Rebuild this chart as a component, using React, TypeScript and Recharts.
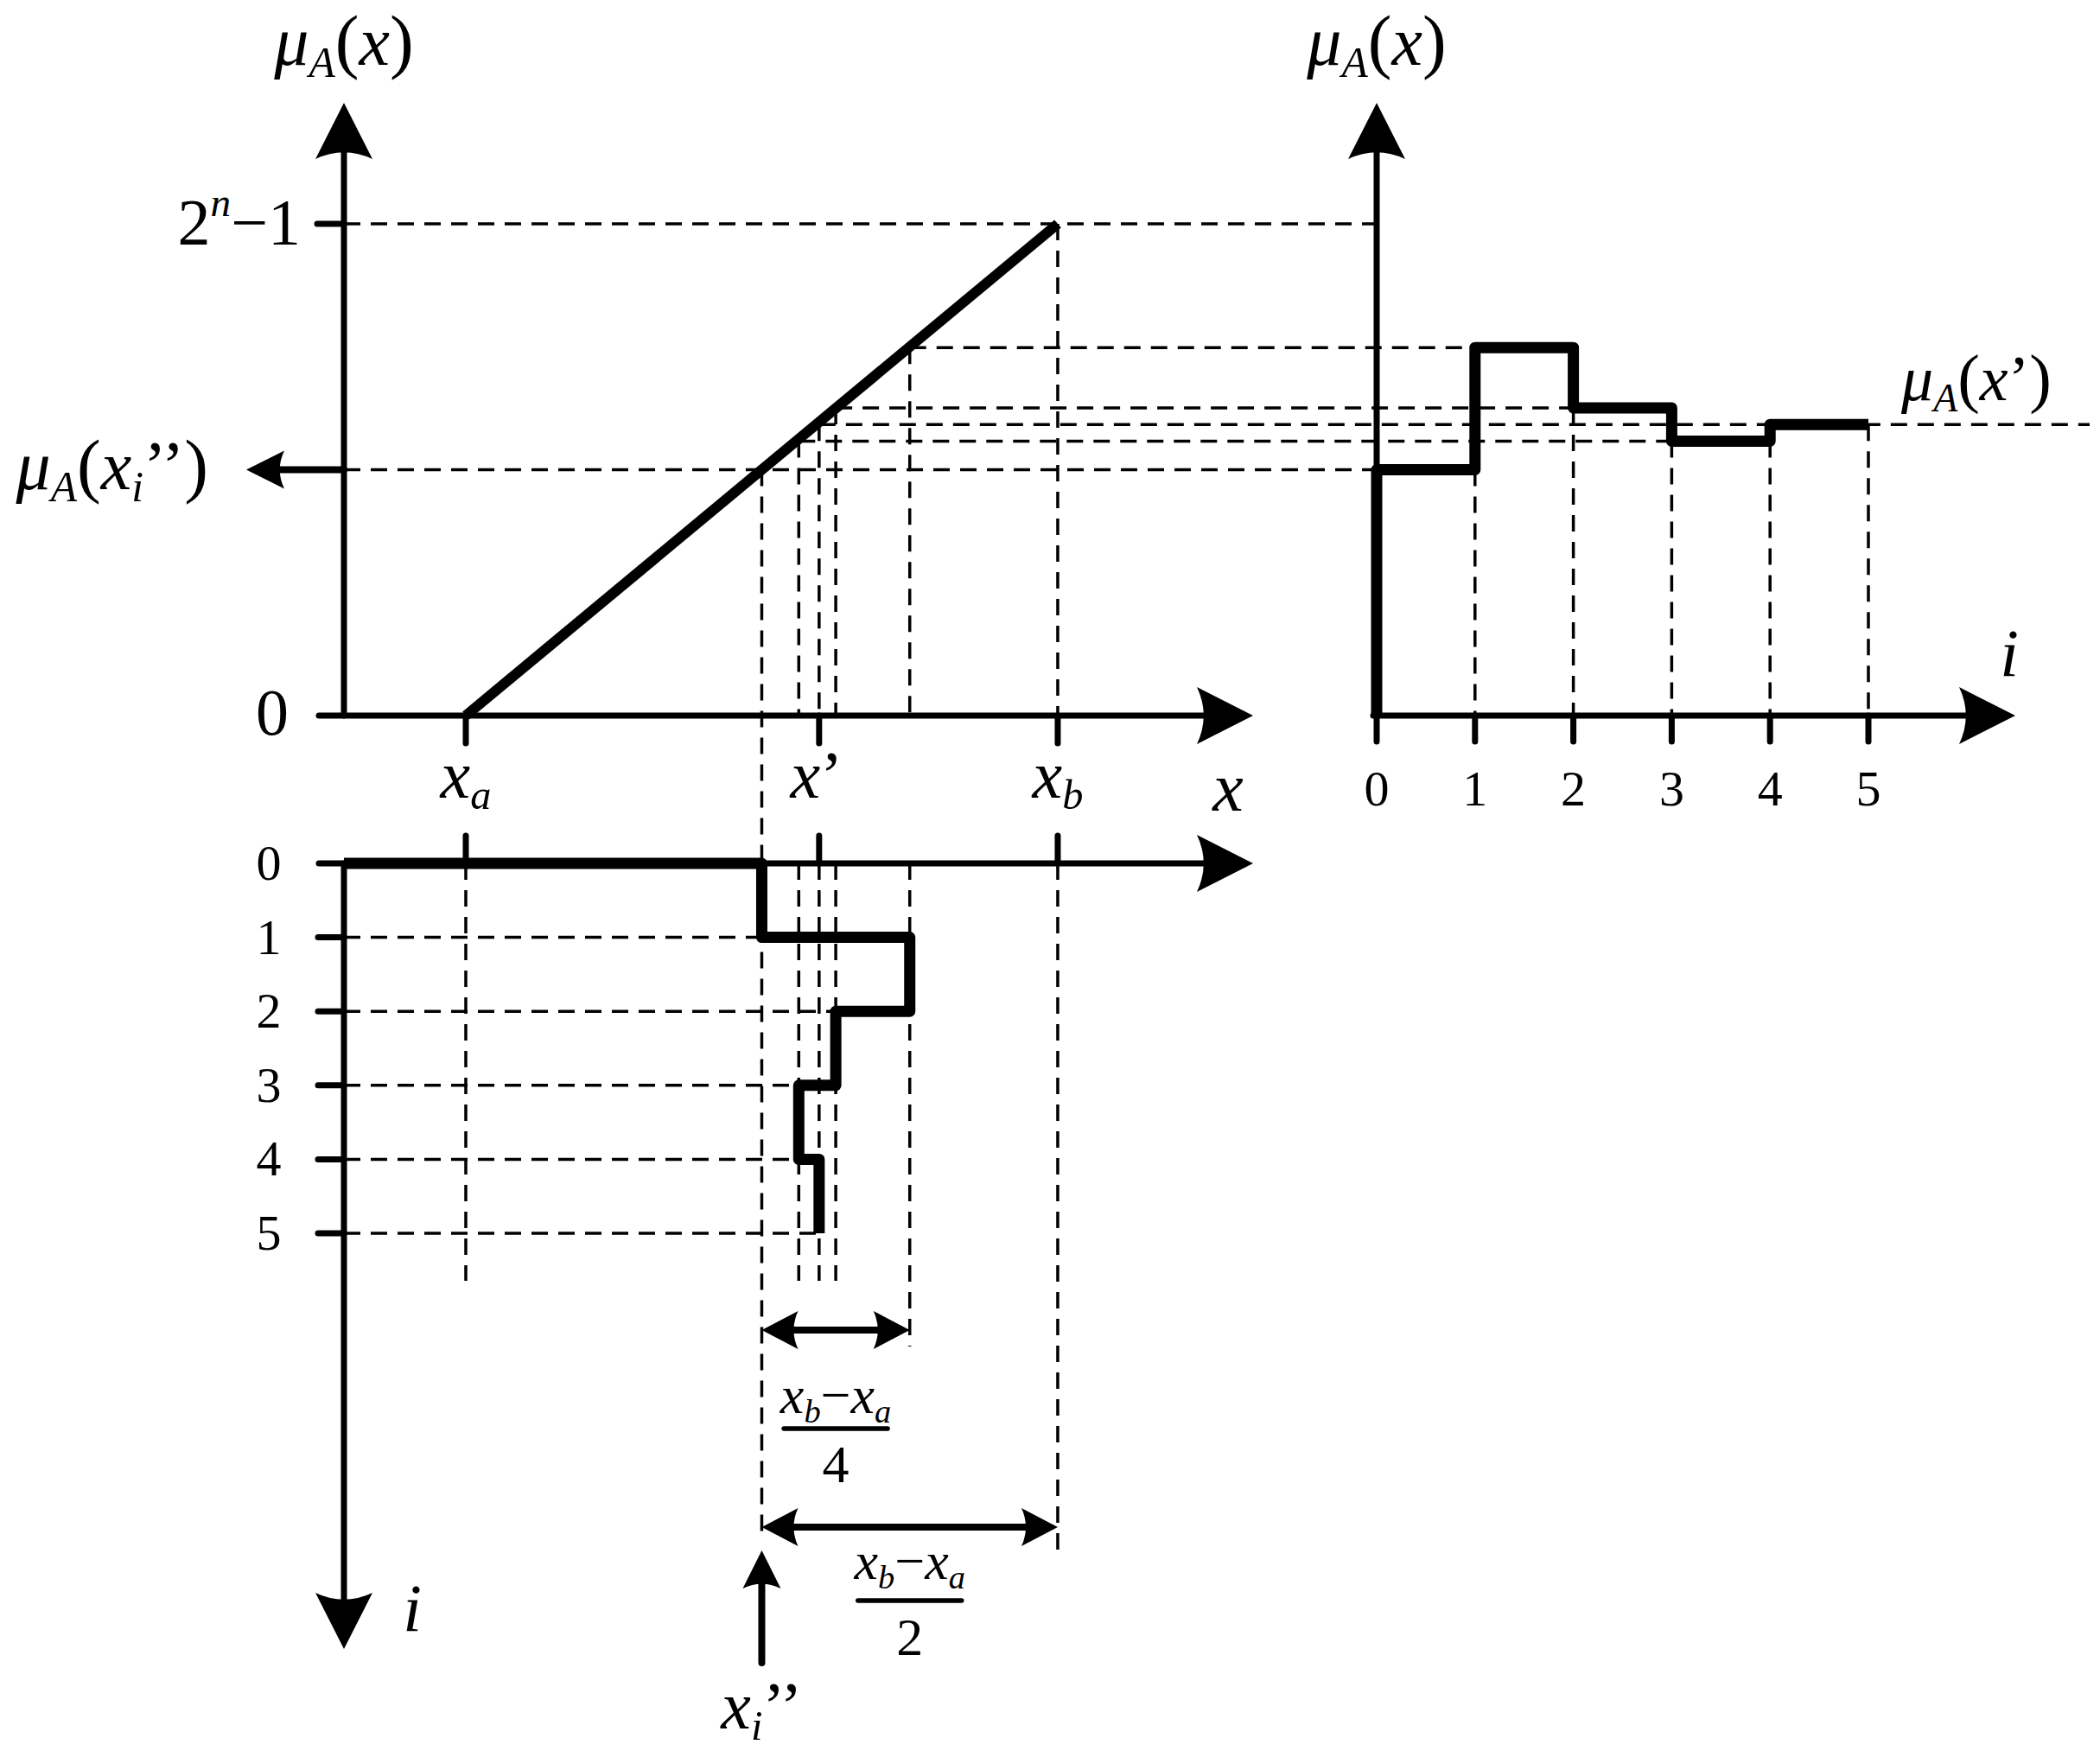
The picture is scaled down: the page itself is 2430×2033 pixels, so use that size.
import React from 'react';
import { ComposedChart, XAxis, YAxis, Line, ReferenceLine, ReferenceDot } from 'recharts';

// ---------------- values ----------------
const X_A = 0;                                   // x_a
const X_B = 16;                                  // x_b
const X_PRIME = 9.55;                            // x'
const MU_MAX = 31;                               // 2^n − 1
const ITER_X = [8, 12, 10, 9, 9.55];             // x_i''  (i = 0..4)
const ITER_MU = [15.5, 23.2, 19.4, 17.3, 18.35]; // μA(x_i'')
const I_TICKS = [0, 1, 2, 3, 4, 5];
const X_TICKS = [X_A, X_PRIME, X_B];

// ---------------- layout (pixel frame of the picture) ----------------
const W = 2430;
const H = 2033;
const X0 = 539, XU = 42.81;    // x axis: px of x=0, px per unit
const M0 = 828, MUP = 18.355;  // μ axis
const I0 = 1593, IU = 113.8;   // i axis (right chart)
const L0 = 999, LU = 85.6;     // i axis (bottom chart, downward)
const ux = (px: number) => (px - X0) / XU;
const um = (py: number) => (M0 - py) / MUP;
const ui = (px: number) => (px - I0) / IU;
const ul = (py: number) => (py - L0) / LU;
const xToI = (x: number) => (X0 + x * XU - I0) / IU;
const muToL = (m: number) => (M0 - m * MUP - L0) / LU;

const AX_X = ux(398);
const AX_X0 = ux(369);
const X_TIP = ux(1450);
const MU_TIP = um(119);
const I_TIP = ui(2332);
const L_TIP = ul(1908);
const DIM1 = ul(1539);
const DIM2 = ul(1767);

const FONT = "'Liberation Serif', 'Times New Roman', serif";
const BLACK = '#000';

// ---------------- text helpers ----------------
type Part = { t: string; i?: boolean; s?: 'sub' | 'sup'; k?: number };
const It = (t: string): Part => ({ t, i: true });
const Rm = (t: string): Part => ({ t });
const Sub = (t: string): Part => ({ t, i: true, s: 'sub' });
const Sup = (t: string): Part => ({ t, i: true, s: 'sup' });
const Par = (t: string): Part => ({ t, k: 1.04 });

function MathText({ x, y, size, parts, anchor = 'middle' }: { x: number; y: number; size: number; parts: Part[]; anchor?: 'start' | 'middle' | 'end' }) {
  let cur = 0;
  return (
    <text x={x} y={y} textAnchor={anchor} fontFamily={FONT} fontSize={size} fill={BLACK} stroke="none">
      {parts.map((p, n) => {
        const off = p.s === 'sub' ? size * 0.17 : p.s === 'sup' ? -size * 0.44 : 0;
        const dy = off - cur;
        cur = off;
        const fs = p.s ? size * 0.62 : size * (p.k ?? 1);
        return (
          <tspan key={n} dy={dy} fontSize={fs} fontStyle={p.i ? 'italic' : 'normal'}>
            {p.t}
          </tspan>
        );
      })}
    </text>
  );
}

const MU_X: Part[] = [It('μ'), Sub('A'), Par('('), It('x'), Par(')')];
const MU_XI: Part[] = [It('μ'), Sub('A'), Par('('), It('x'), Sub('i'), Rm('’’'), Par(')')];
const MU_XP: Part[] = [It('μ'), Sub('A'), Par('('), It('x'), Rm('’'), Par(')')];
const TWO_N: Part[] = [Rm('2'), Sup('n'), Rm('−1')];
const X_TICK_LABELS: Part[][] = [
  [It('x'), Sub('a')],
  [It('x'), Rm('’')],
  [It('x'), Sub('b')],
];
const NUM: Part[] = [It('x'), Sub('b'), Rm('−'), It('x'), Sub('a')];

function txt(key: string, xId: string, yId: string, x: number, y: number, dx: number, dy: number, size: number, parts: Part[], anchor: 'start' | 'middle' | 'end' = 'middle') {
  return (
    <ReferenceDot
      key={key}
      xAxisId={xId}
      yAxisId={yId}
      x={x}
      y={y}
      r={0}
      ifOverflow="visible"
      shape={(p: any) => <MathText x={p.cx + dx} y={p.cy + dy} size={size} parts={parts} anchor={anchor} />}
    />
  );
}

function frac(key: string, x: number, y: number, numDy: number, barDy: number, denDy: number, den: string) {
  return (
    <ReferenceDot
      key={key}
      xAxisId="x"
      yAxisId="lvl"
      x={x}
      y={y}
      r={0}
      ifOverflow="visible"
      shape={(p: any) => (
        <g>
          <MathText x={p.cx} y={p.cy + numDy} size={62} parts={NUM} />
          <line x1={p.cx - 60} x2={p.cx + 60} y1={p.cy + barDy} y2={p.cy + barDy} stroke={BLACK} strokeWidth={5.5} strokeLinecap="round" />
          <MathText x={p.cx} y={p.cy + denDy} size={62} parts={[Rm(den)]} />
        </g>
      )}
    />
  );
}

// ---------------- arrow shapes ----------------
function makeArrow(width: number, len: number, hw: number, atEnd: boolean, atStart: boolean) {
  const notch = len * 0.12;
  return (p: any) => {
    const { x1, y1, x2, y2 } = p;
    const L = Math.hypot(x2 - x1, y2 - y1) || 1;
    const dirX = (x2 - x1) / L;
    const dirY = (y2 - y1) / L;
    const head = (tx: number, ty: number, dx: number, dy: number) => {
      const bx = tx - dx * len;
      const by = ty - dy * len;
      const nx = -dy;
      const ny = dx;
      const qx = tx - dx * (len - 2 * notch);
      const qy = ty - dy * (len - 2 * notch);
      return `M${tx},${ty}L${bx + nx * hw},${by + ny * hw}Q${qx},${qy} ${bx - nx * hw},${by - ny * hw}Z`;
    };
    const inset = len * 0.6;
    const sx = atStart ? x1 + dirX * inset : x1;
    const sy = atStart ? y1 + dirY * inset : y1;
    const ex = atEnd ? x2 - dirX * inset : x2;
    const ey = atEnd ? y2 - dirY * inset : y2;
    return (
      <g>
        <line x1={sx} y1={sy} x2={ex} y2={ey} stroke={BLACK} strokeWidth={width} strokeLinecap="round" />
        {atEnd && <path d={head(x2, y2, dirX, dirY)} fill={BLACK} />}
        {atStart && <path d={head(x1, y1, -dirX, -dirY)} fill={BLACK} />}
      </g>
    );
  };
}
const axisArrow = makeArrow(7, 65, 33, true, false);
const smallArrow = makeArrow(8, 44, 22, true, false);
const dimArrow = makeArrow(8, 42, 22, true, true);

// ---------------- series data built from the values ----------------
const DIAG = [
  { x: X_A, mu: 0 },
  { x: X_B, mu: MU_MAX },
];
const RIGHT_STEP: { i: number; mu: number }[] = [{ i: 0, mu: 0 }];
ITER_MU.forEach((m, k) => {
  RIGHT_STEP.push({ i: k, mu: m }, { i: k + 1, mu: m });
});
const BOTTOM_STEP: { x: number; lvl: number }[] = [{ x: AX_X, lvl: 0 }];
ITER_X.forEach((xv, k) => {
  BOTTOM_STEP.push({ x: xv, lvl: k }, { x: xv, lvl: k + 1 });
});

type Seg = { xId: string; yId: string; a: [number, number]; b: [number, number] };
const DASHED: Seg[] = [];
// projections from the line down to the x axis
for (let k = 1; k < ITER_X.length; k++) DASHED.push({ xId: 'x', yId: 'mu', a: [ITER_X[k], ITER_MU[k]], b: [ITER_X[k], 0] });
DASHED.push({ xId: 'x', yId: 'mu', a: [X_B, MU_MAX], b: [X_B, 0] });
// horizontal projections to the right chart
DASHED.push({ xId: 'i', yId: 'mu', a: [xToI(AX_X), MU_MAX], b: [0, MU_MAX] });
ITER_MU.forEach((m, k) => {
  const startX = k === 0 ? AX_X : ITER_X[k];
  const endI = k === ITER_MU.length - 1 ? ui(2418) : k;
  DASHED.push({ xId: 'i', yId: 'mu', a: [xToI(startX), m], b: [endI, m] });
});
// right chart verticals
for (let j = 1; j <= ITER_MU.length; j++) {
  const m = Math.min(ITER_MU[j - 1], ITER_MU[j] ?? ITER_MU[j - 1]);
  DASHED.push({ xId: 'i', yId: 'mu', a: [j, m], b: [j, 0] });
}
// long vertical at x_0''
DASHED.push({ xId: 'x', yId: 'lvl', a: [ITER_X[0], muToL(ITER_MU[0])], b: [ITER_X[0], ul(1782)] });
// bottom chart verticals
[X_A, ITER_X[2], ITER_X[3], ITER_X[4]].forEach((v) => DASHED.push({ xId: 'x', yId: 'lvl', a: [v, 0], b: [v, ul(1482)] }));
DASHED.push({ xId: 'x', yId: 'lvl', a: [ITER_X[1], 0], b: [ITER_X[1], ul(1558)] });
DASHED.push({ xId: 'x', yId: 'lvl', a: [X_B, 0], b: [X_B, ul(1796)] });
// bottom chart horizontals
for (let l = 1; l <= ITER_X.length; l++) {
  const e = Math.min(ITER_X[l - 1], ITER_X[l] ?? ITER_X[l - 1]);
  DASHED.push({ xId: 'x', yId: 'lvl', a: [AX_X, l], b: [e, l] });
}

type Arr = Seg & { shape: (p: any) => React.ReactElement };
const ARROWS: Arr[] = [
  { xId: 'x', yId: 'mu', a: [AX_X, 0], b: [AX_X, MU_TIP], shape: axisArrow },
  { xId: 'x', yId: 'mu', a: [AX_X0, 0], b: [X_TIP, 0], shape: axisArrow },
  { xId: 'i', yId: 'mu', a: [0, 0], b: [0, MU_TIP], shape: axisArrow },
  { xId: 'i', yId: 'mu', a: [ui(1589), 0], b: [I_TIP, 0], shape: axisArrow },
  { xId: 'x', yId: 'lvl', a: [AX_X, 0], b: [AX_X, L_TIP], shape: axisArrow },
  { xId: 'x', yId: 'lvl', a: [AX_X0, 0], b: [X_TIP, 0], shape: axisArrow },
  { xId: 'x', yId: 'mu', a: [AX_X, ITER_MU[0]], b: [ux(285), ITER_MU[0]], shape: smallArrow },
  { xId: 'x', yId: 'lvl', a: [ITER_X[0], ul(1924)], b: [ITER_X[0], ul(1794)], shape: smallArrow },
  { xId: 'x', yId: 'lvl', a: [ITER_X[0], DIM1], b: [ITER_X[1], DIM1], shape: dimArrow },
  { xId: 'x', yId: 'lvl', a: [ITER_X[0], DIM2], b: [X_B, DIM2], shape: dimArrow },
];

const TICKS: Seg[] = [
  { xId: 'x', yId: 'mu', a: [ux(367), MU_MAX], b: [AX_X, MU_MAX] },
  ...X_TICKS.map((v) => ({ xId: 'x', yId: 'mu', a: [v, 0], b: [v, um(860)] } as Seg)),
  ...X_TICKS.map((v) => ({ xId: 'x', yId: 'lvl', a: [v, 0], b: [v, ul(967)] } as Seg)),
  ...I_TICKS.map((v) => ({ xId: 'i', yId: 'mu', a: [v, 0], b: [v, um(858)] } as Seg)),
  ...I_TICKS.filter((v) => v > 0).map((v) => ({ xId: 'x', yId: 'lvl', a: [ux(368), v], b: [AX_X, v] } as Seg)),
];

export default function App() {
  const xD = [ux(0), ux(W)];
  const iD = [ui(0), ui(W)];
  const muD = [um(H), um(0)];
  const lD = [ul(0), ul(H)];
  const thick = { stroke: BLACK, strokeWidth: 13, dot: false, activeDot: false, isAnimationActive: false, strokeLinejoin: 'round' as const, type: 'linear' as const };

  return (
    <div style={{ position: 'absolute', left: 0, top: 0, width: W, height: H, background: '#fff' }}>
      <ComposedChart width={W} height={H} margin={{ top: 0, right: 0, bottom: 0, left: 0 }}>
        <XAxis xAxisId="x" dataKey="x" type="number" domain={xD} allowDataOverflow hide />
        <XAxis xAxisId="i" dataKey="i" type="number" domain={iD} allowDataOverflow hide />
        <YAxis yAxisId="mu" type="number" domain={muD} allowDataOverflow hide />
        <YAxis yAxisId="lvl" type="number" domain={lD} allowDataOverflow hide reversed />

        {DASHED.map((s, n) => (
          <ReferenceLine
            key={`d${n}`}
            xAxisId={s.xId}
            yAxisId={s.yId}
            segment={[{ x: s.a[0], y: s.a[1] }, { x: s.b[0], y: s.b[1] }]}
            stroke={BLACK}
            strokeWidth={3.5}
            strokeDasharray="19 12"
            ifOverflow="visible"
          />
        ))}

        {TICKS.map((s, n) => (
          <ReferenceLine
            key={`t${n}`}
            xAxisId={s.xId}
            yAxisId={s.yId}
            segment={[{ x: s.a[0], y: s.a[1] }, { x: s.b[0], y: s.b[1] }]}
            stroke={BLACK}
            strokeWidth={7}
            strokeLinecap="round"
            ifOverflow="visible"
          />
        ))}

        {ARROWS.map((s, n) => (
          <ReferenceLine
            key={`a${n}`}
            xAxisId={s.xId}
            yAxisId={s.yId}
            segment={[{ x: s.a[0], y: s.a[1] }, { x: s.b[0], y: s.b[1] }]}
            ifOverflow="visible"
            shape={s.shape}
          />
        ))}

        <Line xAxisId="x" yAxisId="mu" data={DIAG} dataKey="mu" {...thick} strokeWidth={12} />
        <Line xAxisId="i" yAxisId="mu" data={RIGHT_STEP} dataKey="mu" {...thick} />
        <Line xAxisId="x" yAxisId="lvl" data={BOTTOM_STEP} dataKey="lvl" {...thick} />

        {/* top-left chart labels */}
        {txt('l1', 'x', 'mu', AX_X, MU_TIP, 0, -44, 80, MU_X)}
        {txt('l2', 'x', 'mu', AX_X, MU_MAX, -50, 24, 76, TWO_N, 'end')}
        {txt('l3', 'x', 'mu', AX_X, 0, -83, 22, 76, [Rm('0')])}
        {txt('l4', 'x', 'mu', ux(285), ITER_MU[0], -44, 23, 80, MU_XI, 'end')}
        {X_TICKS.map((v, n) => txt(`xt${n}`, 'x', 'mu', v, 0, n === 1 ? -3 : 0, 95, 78, X_TICK_LABELS[n]))}
        {txt('l5', 'x', 'mu', X_TIP, 0, -29, 110, 80, [It('x')])}

        {/* right chart labels */}
        {txt('r1', 'i', 'mu', 0, MU_TIP, 0, -44, 80, MU_X)}
        {I_TICKS.map((v) => txt(`rt${v}`, 'i', 'mu', v, 0, 0, 104, 58, [Rm(String(v))]))}
        {txt('r2', 'i', 'mu', I_TIP, 0, -7, -46, 78, [It('i')])}
        {txt('r3', 'i', 'mu', I_TICKS[5], ITER_MU[4], 38, -28, 74, MU_XP, 'start')}

        {/* bottom chart labels */}
        {I_TICKS.map((v) => txt(`bt${v}`, 'x', 'lvl', AX_X, v, -87, 19, 58, [Rm(String(v))]))}
        {txt('b1', 'x', 'lvl', AX_X, L_TIP, 79, -21, 78, [It('i')])}
        {txt('b2', 'x', 'lvl', ITER_X[0], ul(1924), 0, 76, 78, [It('x'), Sub('i'), Rm('’’')])}
        {frac('f1', (ITER_X[0] + ITER_X[1]) / 2, DIM1, 96, 114, 176, '4')}
        {frac('f2', (ITER_X[0] + X_B) / 2, DIM2, 60, 85, 148, '2')}
      </ComposedChart>
    </div>
  );
}
